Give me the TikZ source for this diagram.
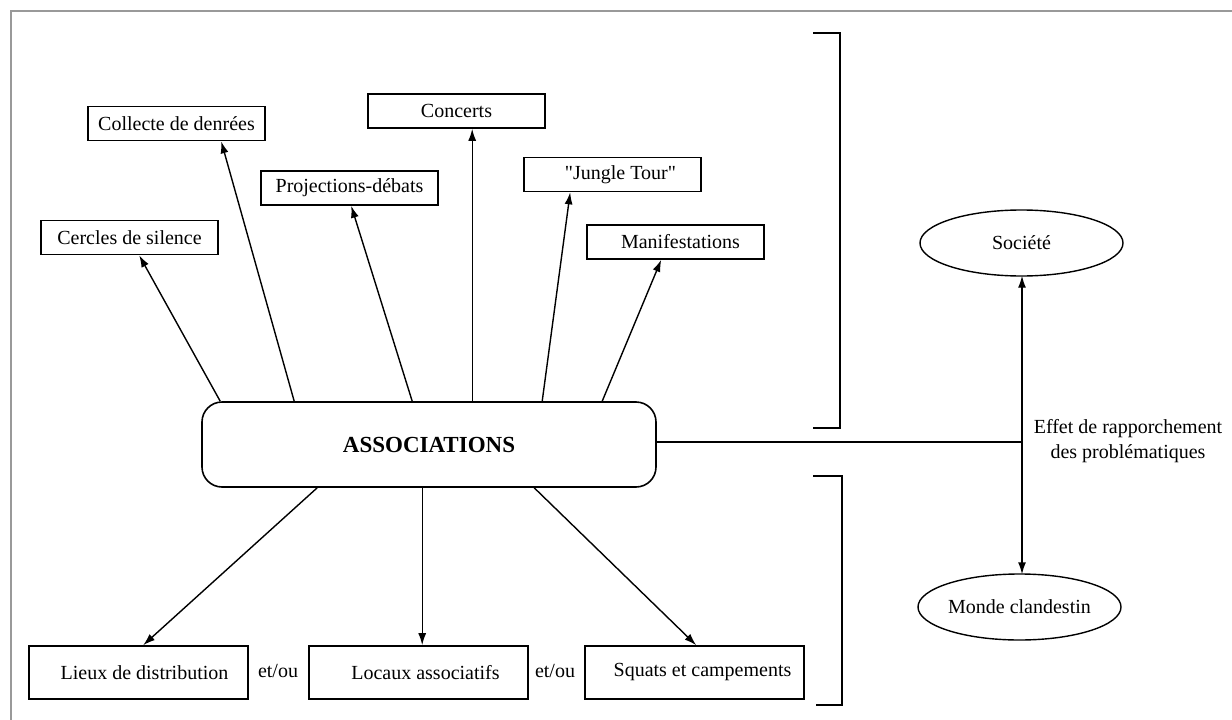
\documentclass[tikz,border=0pt]{standalone}
\usepackage{fontspec}
\setmainfont{Liberation Serif}
\newfontfamily\qfont{Liberation Serif}
\usetikzlibrary{shapes.geometric,arrows.meta}
\begin{document}
\begin{tikzpicture}[x=1pt,y=-1pt,
  every node/.style={font=\fontsize{20}{25}\selectfont},
  box/.style={draw, line width=1.6pt, minimum width=177pt, minimum height=34pt, inner sep=0pt},
  lowbox/.style={draw, line width=1.6pt, minimum width=219pt, minimum height=53pt, inner sep=0pt},
  oval/.style={draw, ellipse, line width=1.4pt, minimum width=203pt, minimum height=66pt, inner sep=0pt},
  arr/.style={line width=1.4pt, -{Latex[length=12pt,width=8pt]}},
  plain/.style={line width=1.4pt},
  brk/.style={line width=1.7pt},
  frame/.style={line width=1.2pt, draw=black!40}]
\useasboundingbox (0,0) rectangle (1232,720);
\draw[frame] (11,720) -- (11,11) -- (1232,11);

\node[box] (cercles) at (129.5,237.5) {Cercles de silence};
\node[box] (collecte) at (176.5,123.5) {Collecte de denrées};
\node[box] (proj) at (349.5,188) {Projections-débats};
\node[box] (concerts) at (456.5,111) {Concerts};
\node[box] (jungle) at (612.5,174.5) {\hspace*{16pt}{\qfont "Jungle Tour"}};
\node[box] (manif) at (675.5,242) {\hspace*{10pt}Manifestations};

\node[draw, line width=1.6pt, rounded corners=20pt, minimum width=454pt, minimum height=85pt, inner sep=0pt,
      font=\fontsize{23}{28}\selectfont\bfseries] (assoc) at (429,444.5) {ASSOCIATIONS};

\node[lowbox] (lieux) at (138.5,672.5) {\hspace*{12pt}Lieux de distribution};
\node[lowbox] (locaux) at (418.5,672.5) {\hspace*{14pt}Locaux associatifs};
\node[lowbox] (squats) at (694.5,672.5) {\hspace*{16pt}Squats et campements};
\node (etou1) at (278,671) {et/ou};
\node (etou2) at (555,671) {et/ou};

\node[oval] (societe) at (1021.5,243) {Société};
\node[oval] (monde) at (1019.5,607) {Monde clandestin};
\coordinate (junction) at (1022,442);
\node[align=center, font=\fontsize{20}{25}\selectfont] (effet) at (1128,441) {Effet de rapporchement\\des problématiques};

% arrows up
\draw[arr] ([xshift=19pt]assoc.north west) -- ([xshift=99pt]cercles.south west);
\draw[arr] ([xshift=93pt]assoc.north west) -- ([xshift=134pt]collecte.south west);
\draw[arr] ([xshift=211pt]assoc.north west) -- ([xshift=91pt]proj.south west);
\draw[arr] ([xshift=271pt]assoc.north west) -- ([xshift=105pt]concerts.south west);
\draw[arr] ([xshift=341pt]assoc.north west) -- ([xshift=47pt]jungle.south west);
\draw[arr] ([xshift=401pt]assoc.north west) -- ([xshift=75pt]manif.south west);

% arrows down
\draw[arr] ([xshift=116pt]assoc.south west) -- ([xshift=115pt]lieux.north west);
\draw[arr] ([xshift=221pt]assoc.south west) -- ([xshift=114pt]locaux.north west);
\draw[arr] ([xshift=333pt]assoc.south west) -- ([xshift=112pt]squats.north west);

% right side
\draw[plain] (assoc.east |- junction) -- (junction);
\draw[line width=1.4pt, {Latex[length=12pt,width=8pt]}-{Latex[length=12pt,width=8pt]}]
  ([yshift=1pt]societe.south -| junction) -- ([yshift=-1pt]monde.north -| junction);

% brackets
\draw[brk] (813,33) -- (840,33) -- (840,428) -- (813,428);
\draw[brk] (813,476) -- (842,476) -- (842,705) -- (816,705);
\end{tikzpicture}
\end{document}
